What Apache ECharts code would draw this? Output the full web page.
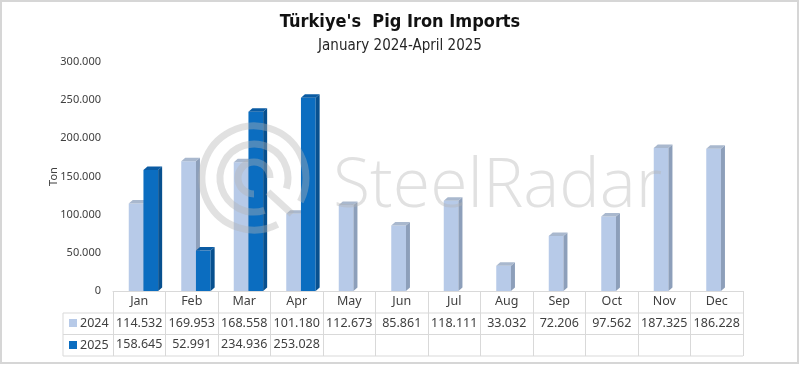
<!DOCTYPE html>
<html><head><meta charset="utf-8">
<script src="https://cdn.jsdelivr.net/npm/echarts@6/dist/echarts.min.js"></script>
<style>html,body{margin:0;padding:0;background:#fff}#c{width:800px;height:366px}</style>
</head><body><div id="c"></div>
<script>
var months = ['Jan','Feb','Mar','Apr','May','Jun','Jul','Aug','Sep','Oct','Nov','Dec'];
var seriesNames = ['2024','2025'];
var v2024 = [114532,169953,168558,101180,112673,85861,118111,33032,72206,97562,187325,186228];
var v2025 = [158645,52991,234936,253028,null,null,null,null,null,null,null,null];
var yTicks = [0,50000,100000,150000,200000,250000,300000];

function fmt(v){ if(v==null) return ' '; if(v===0) return '0'; var s=String(Math.round(v)); return s.replace(/\B(?=(\d{3})+(?!\d))/g,'.'); }

var FONT = "'Noto Sans', 'DejaVu Sans', sans-serif";
var colors = [
  {front:'#B7CAE8', side:'#8D9FBA', top:'#A9B8CE'},
  {front:'#0B6DC0', side:'#07508F', top:'#0A5BA3'}
];

function makeRender(k){
  return function(params, api){
    var idx = api.value(0), v = api.value(1);
    if (v == null || isNaN(v)) return;
    var base = api.coord([idx, 0]);
    var top = api.coord([idx, v]);
    var bw = api.size([1, 0])[0];
    var w = bw * 0.28;
    var x0 = base[0] - bw * 0.2 + k * w;
    var dx = 4, dy = 3.5;
    var c = colors[k];
    return {type:'group', children:[
      {type:'rect', shape:{x:x0, y:top[1], width:w, height:base[1]-top[1]}, style:{fill:c.front}},
      {type:'polygon', shape:{points:[[x0+w,top[1]],[x0+w+dx,top[1]-dy],[x0+w+dx,base[1]-dy],[x0+w,base[1]]]}, style:{fill:c.side}},
      {type:'polygon', shape:{points:[[x0,top[1]],[x0+dx,top[1]-dy],[x0+w+dx,top[1]-dy],[x0+w,top[1]]]}, style:{fill:c.top}}
    ]};
  };
}

var chart = echarts.init(document.getElementById('c'), null, {renderer:'canvas'});
var lineCol = '#D9D9D9';
var wm = 'rgba(180,180,180,0.4)';
var option = {
  backgroundColor:'#fff',
  animation:false,
  title:{
    text:"Türkiye's  Pig Iron Imports", subtext:'January 2024-April 2025', left:'center', top:8, itemGap:8,
    textStyle:{fontFamily:"'Liberation Sans Narrow','DejaVu Sans Condensed',sans-serif", fontWeight:'bold', fontSize:18, color:'#111'},
    subtextStyle:{fontFamily:"'Liberation Sans Narrow','DejaVu Sans Condensed',sans-serif", fontSize:15, color:'#262626'}
  },
  grid:{left:113, right:57, top:62, bottom:75},
  xAxis:{
    type:'category', data:months,
    axisLine:{show:true, lineStyle:{color:lineCol}},
    axisTick:{show:true, length:65, interval:0, lineStyle:{color:lineCol}},
    axisLabel:{
      interval:0, margin:0,
      formatter:function(val, i){ return '{m|'+val+'}\n{a|'+fmt(v2024[i])+'}\n{a|'+fmt(v2025[i])+'}'; },
      rich:{
        m:{fontFamily:FONT, fontSize:12.5, color:'#404040', lineHeight:21.5, height:21.5},
        a:{fontFamily:FONT, fontSize:12.5, color:'#404040', lineHeight:21.5, height:21.5}
      }
    }
  },
  yAxis:{
    type:'value', min:0, max:300000, interval:50000,
    name:'Ton', nameLocation:'middle', nameGap:54, nameRotate:90, nameMoveOverlap:false,
    nameTextStyle:{fontFamily:FONT, fontSize:11, color:'#404040'},
    axisLine:{show:false}, axisTick:{show:false}, splitLine:{show:false},
    axisLabel:{margin:12, fontFamily:FONT, fontSize:11, color:'#404040', formatter:function(v){return fmt(v);}}
  },
  series:[
    {type:'custom', name:seriesNames[0], renderItem:makeRender(0), encode:{x:0,y:1}, data:v2024.map(function(v,i){return [i,v];}), z:2},
    {type:'custom', name:seriesNames[1], renderItem:makeRender(1), encode:{x:0,y:1}, data:v2025.map(function(v,i){return [i,v==null?'-':v];}), z:3}
  ],
  graphic:[
    {type:'rect', shape:{x:1,y:1,width:797,height:362}, style:{fill:'none', stroke:'#D6D6D6', lineWidth:2}, z:100},
    {type:'line', shape:{x1:63,y1:313,x2:743,y2:313}, style:{stroke:lineCol, lineWidth:1}},
    {type:'line', shape:{x1:63,y1:334.5,x2:743,y2:334.5}, style:{stroke:lineCol, lineWidth:1}},
    {type:'line', shape:{x1:63,y1:356,x2:743,y2:356}, style:{stroke:lineCol, lineWidth:1}},
    {type:'line', shape:{x1:63,y1:313,x2:63,y2:356}, style:{stroke:lineCol, lineWidth:1}},
    {type:'rect', shape:{x:69,y:319,width:8,height:8}, style:{fill:colors[0].front}},
    {type:'rect', shape:{x:69,y:341,width:8,height:8}, style:{fill:colors[1].front}},
    {type:'text', x:80, y:323.5, style:{text:seriesNames[0], fontFamily:FONT, fontSize:12.5, fill:'#404040', verticalAlign:'middle'}},
    {type:'text', x:80, y:345, style:{text:seriesNames[1], fontFamily:FONT, fontSize:12.5, fill:'#404040', verticalAlign:'middle'}},
    // watermark
    {type:'text', x:333, y:222, z:50, style:{text:'SteelRadar', fontFamily:"'Open Sans','Lato',sans-serif", fontWeight:300, fontSize:68, fill:wm, verticalAlign:'bottom'}},
    {type:'arc', z:50, shape:{cx:254,cy:178,r:52,startAngle:Math.PI*0.35,endAngle:Math.PI*0.15+Math.PI*2}, style:{fill:'none',stroke:wm,lineWidth:7}},
    {type:'arc', z:50, shape:{cx:254,cy:178,r:34,startAngle:Math.PI*0.4,endAngle:Math.PI*0.1+Math.PI*2}, style:{fill:'none',stroke:wm,lineWidth:7}},
    {type:'arc', z:50, shape:{cx:254,cy:178,r:16,startAngle:Math.PI*0.5,endAngle:Math.PI*2}, style:{fill:'none',stroke:wm,lineWidth:7}},
    {type:'line', z:50, shape:{x1:268,y1:192,x2:292,y2:214}, style:{stroke:wm,lineWidth:7}}
  ]
};
chart.setOption(option);
</script></body></html>
